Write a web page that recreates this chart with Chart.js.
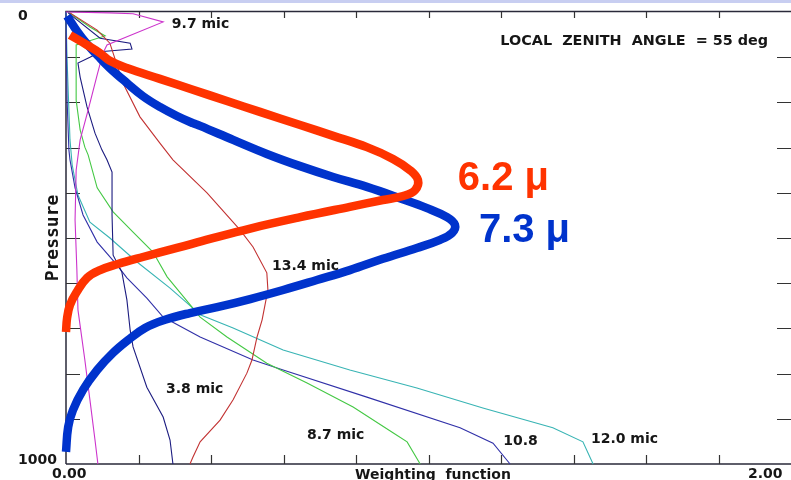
<!DOCTYPE html>
<html>
<head>
<meta charset="utf-8">
<script src="https://cdn.jsdelivr.net/npm/chart.js@4/dist/chart.umd.min.js"></script>
<style>
  html, body { margin: 0; padding: 0; background: #ffffff; }
  #wrap { width: 791px; height: 480px; position: relative; }
</style>
</head>
<body>
<div id="wrap"><canvas id="c" width="791" height="480"></canvas></div>
<script>
// Weighting functions (x) against pressure in hPa (y, 0 at the top)

// Axis ticks and their labels
const xTicks = [0, 0.2, 0.4, 0.6, 0.8, 1.0, 1.2, 1.4, 1.6, 1.8, 2.0];
const yTicks = [0, 100, 200, 300, 400, 500, 600, 700, 800, 900, 1000];
const xTickLabels = ['0.00', '2.00'];
const yTickLabels = ['0', '1000'];

// 6.2 micron water vapour channel
const w62 = [0.011, 0.058, 0.094, 0.121, 0.168, 0.259, 0.350, 0.444, 0.535, 0.646, 0.737, 0.830, 0.902, 0.949, 0.971, 0.963, 0.930, 0.874, 0.783, 0.646, 0.508, 0.397, 0.306, 0.212, 0.141, 0.094, 0.058, 0.030, 0.011, 0.003, 0];
const p62 = [51, 73, 91, 108, 124, 148, 172, 197, 221, 250, 274, 299, 325, 350, 372, 394, 407, 416, 431, 454, 479, 502, 522, 542, 558, 571, 588, 619, 648, 677, 708];

// 7.3 micron water vapour channel
const w73 = [0.003, 0.030, 0.058, 0.088, 0.121, 0.168, 0.212, 0.259, 0.306, 0.350, 0.370, 0.461, 0.554, 0.646, 0.737, 0.830, 0.921, 0.996, 1.051, 1.073, 1.065, 1.032, 0.968, 0.874, 0.783, 0.692, 0.599, 0.508, 0.417, 0.342, 0.273, 0.218, 0.171, 0.130, 0.086, 0.047, 0.019, 0.006, 0];
const p73 = [9, 42, 71, 97, 124, 157, 186, 210, 230, 246, 252, 283, 314, 341, 365, 387, 412, 434, 454, 471, 489, 504, 522, 546, 571, 593, 615, 635, 653, 666, 681, 699, 726, 754, 792, 836, 881, 918, 973];

// 9.7 micron ozone channel
const w97 = [0, 0.121, 0.185, 0.268, 0.113, 0.102, 0.086, 0.061, 0.039, 0.028, 0.025, 0.030, 0.033, 0.052, 0.066, 0.080, 0.088];
const p97 = [0, 2, 4, 22, 73, 91, 139, 217, 283, 350, 460, 571, 659, 770, 858, 947, 1000];

// 13.4 micron CO2 channel
const w134 = [0.011, 0.086, 0.121, 0.157, 0.204, 0.259, 0.295, 0.389, 0.480, 0.516, 0.554, 0.557, 0.549, 0.541, 0.527, 0.513, 0.499, 0.461, 0.425, 0.370, 0.350, 0.342];
const p134 = [2, 40, 69, 157, 232, 290, 327, 400, 482, 520, 577, 615, 648, 681, 719, 770, 799, 858, 903, 951, 985, 1000];

// 3.8 micron window channel
const w38 = [0.006, 0.094, 0.177, 0.182, 0.094, 0.066, 0.033, 0.039, 0.058, 0.080, 0.099, 0.113, 0.127, 0.127, 0.130, 0.154, 0.168, 0.177, 0.185, 0.223, 0.268, 0.287, 0.295];
const p38 = [2, 58, 69, 82, 88, 100, 113, 144, 210, 268, 305, 327, 354, 449, 538, 575, 637, 704, 741, 830, 896, 947, 1000];

// 8.7 micron window channel
const w87 = [0.006, 0.066, 0.108, 0.028, 0.028, 0.039, 0.052, 0.061, 0.086, 0.130, 0.185, 0.240, 0.279, 0.350, 0.370, 0.444, 0.554, 0.665, 0.792, 0.902, 0.941, 0.977];
const p87 = [0, 33, 53, 73, 195, 261, 299, 316, 389, 442, 487, 531, 586, 655, 675, 719, 777, 821, 874, 931, 951, 1000];

// 10.8 micron window channel
const w108 = [0, 0.003, 0.008, 0.011, 0.025, 0.047, 0.086, 0.141, 0.168, 0.223, 0.268, 0.370, 0.516, 0.599, 0.830, 1.087, 1.178, 1.225];
const p108 = [0, 195, 305, 327, 389, 449, 509, 560, 588, 633, 675, 719, 770, 792, 852, 920, 954, 1000];

// 12.0 micron window channel
const w120 = [0, 0.003, 0.011, 0.017, 0.033, 0.066, 0.121, 0.196, 0.287, 0.350, 0.370, 0.461, 0.599, 0.783, 0.968, 1.150, 1.343, 1.426, 1.454];
const p120 = [0, 106, 283, 338, 405, 465, 500, 553, 611, 655, 670, 699, 748, 792, 832, 876, 920, 951, 1000];

const pts = (w, p) => w.map((v, i) => ({ x: v, y: p[i] }));

function thick(label, w, p, color) {
  return { label, data: pts(w, p), borderColor: color, borderWidth: 8.5, tension: 0.4,
           borderCapStyle: 'butt', borderJoinStyle: 'round', showLine: true, pointRadius: 0, clip: false };
}
function thin(label, w, p, color) {
  return { label, data: pts(w, p), borderColor: color, borderWidth: 1.1, tension: 0,
           showLine: true, pointRadius: 0, clip: false };
}

const TEXT = '#161616';
const SMALL = 'bold 14px "DejaVu Sans"';

// curve labels, anchored in data coordinates
const notes = [
  { t: '9.7 mic', x: 0.292, y: 27 },
  { t: '13.4 mic', x: 0.568, y: 562 },
  { t: '3.8 mic', x: 0.276, y: 834 },
  { t: '8.7 mic', x: 0.665, y: 936 },
  { t: '10.8', x: 1.206, y: 951 },
  { t: '12.0 mic', x: 1.448, y: 945 }
];

const frame = {
  id: 'frame',
  beforeDatasetsDraw(chart) {
    const { ctx, chartArea: a, scales: { x, y } } = chart;
    ctx.save();
    ctx.fillStyle = '#c8cef1';
    ctx.fillRect(0, 0, chart.width, 3);

    ctx.strokeStyle = '#2a2a3a';
    ctx.lineWidth = 1.5;
    ctx.beginPath();
    ctx.moveTo(a.left, a.bottom); ctx.lineTo(a.left, a.top - 0.5); ctx.lineTo(a.right, a.top - 0.5);
    ctx.moveTo(a.left, a.bottom); ctx.lineTo(a.right, a.bottom);
    ctx.stroke();

    ctx.lineWidth = 1.2;
    ctx.strokeStyle = '#333';
    ctx.beginPath();
    xTicks.slice(1, -1).forEach(v => {
      const px = Math.round(x.getPixelForValue(v)) + 0.5;
      ctx.moveTo(px, a.top); ctx.lineTo(px, a.top + 6);
      ctx.moveTo(px, a.bottom); ctx.lineTo(px, a.bottom - 9);
    });
    yTicks.slice(1, -1).forEach(v => {
      const py = Math.round(y.getPixelForValue(v)) + 0.5;
      ctx.moveTo(a.left, py); ctx.lineTo(a.left + 14, py);
      ctx.moveTo(a.right, py); ctx.lineTo(a.right - 14, py);
    });
    ctx.stroke();
    ctx.restore();
  },
  afterDatasetsDraw(chart) {
    const { ctx, chartArea: a, scales: { x, y } } = chart;
    ctx.save();
    ctx.fillStyle = TEXT;
    ctx.font = SMALL;
    ctx.textBaseline = 'middle';

    // tick labels
    ctx.textAlign = 'left';
    ctx.fillText(yTickLabels[0], 18, y.getPixelForValue(yTicks[0]) + 4);
    ctx.fillText(yTickLabels[1], 18, y.getPixelForValue(yTicks[yTicks.length - 1]) - 4);
    ctx.fillText(xTickLabels[0], 52, a.bottom + 10);
    ctx.fillText(xTickLabels[1], 748, a.bottom + 10);

    // axis titles
    ctx.fillText('Weighting  function', 355, a.bottom + 11);
    ctx.save();
    ctx.translate(53, 238);
    ctx.rotate(-Math.PI / 2);
    ctx.textAlign = 'center';
    ctx.font = 'bold 18px "DejaVu Sans Mono"';
    ctx.fillText('Pressure', 0, 0);
    ctx.restore();

    // curve labels
    notes.forEach(n => ctx.fillText(n.t, x.getPixelForValue(n.x), y.getPixelForValue(n.y)));

    ctx.textAlign = 'right';
    ctx.font = 'bold 14.4px "DejaVu Sans"';
    ctx.fillText('LOCAL  ZENITH  ANGLE  = 55 deg', x.getPixelForValue(1.937), y.getPixelForValue(64));

    ctx.textAlign = 'left';
    ctx.font = 'bold 40px "Liberation Sans"';
    ctx.fillStyle = '#ff3300';
    ctx.fillText('6.2 μ', x.getPixelForValue(1.081), y.getPixelForValue(369));
    ctx.fillStyle = '#0033cc';
    ctx.fillText('7.3 μ', x.getPixelForValue(1.139), y.getPixelForValue(484));
    ctx.restore();
  }
};

new Chart(document.getElementById('c'), {
  type: 'scatter',
  data: {
    datasets: [
      thick('6.2 μ', w62, p62, '#ff3300'),
      thick('7.3 μ', w73, p73, '#0033cc'),
      thin('9.7 mic', w97, p97, '#cc33cc'),
      thin('13.4 mic', w134, p134, '#c23232'),
      thin('3.8 mic', w38, p38, '#1c1c80'),
      thin('8.7 mic', w87, p87, '#44c844'),
      thin('10.8', w108, p108, '#3030a8'),
      thin('12.0 mic', w120, p120, '#38b4b4')
    ]
  },
  options: {
    responsive: false,
    animation: false,
    events: [],
    layout: { padding: { left: 66, top: 12, right: 0, bottom: 16 } },
    plugins: { legend: { display: false }, tooltip: { enabled: false } },
    scales: {
      x: { type: 'linear', min: 0, max: 2, display: false },
      y: { type: 'linear', min: 0, max: 1000, reverse: true, display: false }
    }
  },
  plugins: [frame]
});
</script>
</body>
</html>
